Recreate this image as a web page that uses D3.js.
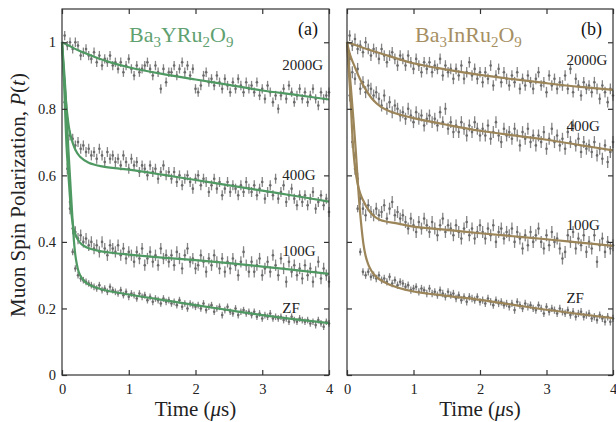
<!DOCTYPE html>
<html><head><meta charset="utf-8">
<script src="https://cdn.jsdelivr.net/npm/d3@7"></script>
<style>body{margin:0;background:#fff}svg{display:block}</style>
</head><body>
<svg id="c" width="616" height="422"></svg>
<script>
const times = [0.04,0.08,0.12,0.16,0.20,0.24,0.28,0.32,0.36,0.40,
0.44,0.48,0.52,0.56,0.60,0.64,0.68,0.72,0.76,0.80,
0.84,0.88,0.92,0.96,1.00,1.04,1.08,1.12,1.16,1.20,
1.24,1.28,1.32,1.36,1.40,1.44,1.48,1.52,1.56,1.60,
1.64,1.68,1.72,1.76,1.80,1.84,1.88,1.92,1.96,2.00,
2.04,2.08,2.12,2.16,2.20,2.24,2.28,2.32,2.36,2.40,
2.44,2.48,2.52,2.56,2.60,2.64,2.68,2.72,2.76,2.80,
2.84,2.88,2.92,2.96,3.00,3.04,3.08,3.12,3.16,3.20,
3.24,3.28,3.32,3.36,3.40,3.44,3.48,3.52,3.56,3.60,
3.64,3.68,3.72,3.76,3.80,3.84,3.88,3.92,3.96,4.00];

const fieldLabels = ["2000G","400G","100G","ZF"];
const xTicks = [0,1,2,3,4];
const yTicks = [0,0.2,0.4,0.6,0.8,1];
const yTickLabels = ["0","0.2","0.4","0.6","0.8","1"];

// Panel (a) Ba3YRu2O9 data
const a2000 = [1.02,0.99,1.00,0.98,1.00,0.99,0.96,0.97,0.98,0.96,
0.95,0.97,0.94,0.96,0.93,0.95,0.94,0.96,0.93,0.94,
0.92,0.94,0.91,0.93,0.95,0.92,0.90,0.93,0.91,0.92,
0.93,0.94,0.92,0.90,0.93,0.91,0.86,0.92,0.88,0.91,
0.91,0.93,0.90,0.92,0.94,0.91,0.93,0.90,0.92,0.86,
0.85,0.87,0.90,0.91,0.88,0.89,0.87,0.90,0.88,0.86,
0.89,0.87,0.85,0.88,0.86,0.89,0.87,0.85,0.88,0.86,
0.87,0.85,0.88,0.84,0.86,0.83,0.87,0.85,0.82,0.84,
0.80,0.84,0.86,0.83,0.87,0.85,0.82,0.84,0.86,0.83,
0.85,0.82,0.84,0.86,0.83,0.81,0.85,0.83,0.84,0.85];
const a400 = [0.87,0.77,0.72,0.71,0.69,0.70,0.68,0.69,0.67,0.68,
0.66,0.67,0.65,0.68,0.66,0.64,0.67,0.65,0.66,0.64,
0.65,0.63,0.66,0.64,0.62,0.65,0.63,0.64,0.61,0.63,
0.62,0.60,0.63,0.61,0.62,0.59,0.61,0.63,0.60,0.61,
0.59,0.61,0.58,0.60,0.57,0.59,0.60,0.58,0.56,0.59,
0.60,0.57,0.59,0.58,0.55,0.57,0.59,0.56,0.58,0.54,
0.56,0.58,0.55,0.57,0.56,0.54,0.57,0.55,0.58,0.56,
0.55,0.57,0.54,0.56,0.58,0.53,0.55,0.57,0.54,0.59,
0.53,0.55,0.57,0.52,0.54,0.56,0.53,0.51,0.54,0.52,
0.54,0.51,0.53,0.55,0.50,0.52,0.54,0.51,0.53,0.49];
const a100 = [0.82,0.62,0.50,0.44,0.43,0.41,0.42,0.40,0.41,0.39,
0.40,0.38,0.39,0.37,0.40,0.38,0.36,0.39,0.38,0.37,
0.39,0.36,0.38,0.35,0.37,0.36,0.34,0.37,0.35,0.38,
0.33,0.35,0.37,0.34,0.36,0.33,0.38,0.35,0.36,0.34,
0.36,0.33,0.37,0.35,0.32,0.36,0.38,0.34,0.35,0.32,
0.33,0.36,0.34,0.31,0.35,0.33,0.36,0.34,0.32,0.35,
0.31,0.34,0.32,0.35,0.33,0.30,0.34,0.37,0.33,0.31,
0.34,0.31,0.33,0.35,0.30,0.32,0.34,0.31,0.36,0.33,
0.30,0.35,0.32,0.28,0.34,0.31,0.33,0.30,0.32,0.29,
0.33,0.30,0.32,0.28,0.31,0.34,0.29,0.32,0.30,0.28];
const aZF = [0.88,0.72,0.52,0.37,0.32,0.30,0.29,0.285,0.28,0.275,
0.27,0.265,0.26,0.27,0.255,0.26,0.25,0.265,0.255,0.25,
0.245,0.255,0.24,0.25,0.235,0.245,0.24,0.23,0.245,0.235,
0.24,0.225,0.235,0.22,0.23,0.225,0.215,0.23,0.22,0.225,
0.215,0.22,0.21,0.225,0.205,0.215,0.20,0.215,0.21,0.205,
0.21,0.20,0.215,0.195,0.205,0.21,0.19,0.20,0.205,0.18,
0.195,0.205,0.19,0.185,0.20,0.18,0.19,0.195,0.185,0.19,
0.18,0.19,0.175,0.185,0.17,0.18,0.175,0.185,0.17,0.175,
0.17,0.175,0.165,0.17,0.16,0.175,0.165,0.16,0.17,0.165,
0.16,0.165,0.155,0.16,0.15,0.165,0.155,0.145,0.16,0.155];
const errA = [0.014,0.015,0.017,0.010];

// Panel (a) fit curves [t, P]
const fitA2000 = [[0,1.0],[0.1,0.99],[0.25,0.975],[0.5,0.955],[0.75,0.938],[1,0.925],[1.5,0.905],[2,0.888],[2.5,0.872],[3,0.855],[3.5,0.842],[4,0.828]];
const fitA400 = [[0,1.0],[0.03,0.90],[0.07,0.80],[0.12,0.727],[0.2,0.677],[0.27,0.656],[0.4,0.638],[0.6,0.627],[1,0.617],[1.5,0.602],[2,0.586],[2.5,0.57],[3,0.554],[3.5,0.538],[4,0.521]];
const fitA100 = [[0,1.0],[0.03,0.88],[0.07,0.68],[0.1,0.59],[0.125,0.52],[0.15,0.47],[0.175,0.44],[0.2,0.423],[0.25,0.403],[0.3,0.392],[0.4,0.381],[0.55,0.373],[0.8,0.366],[1,0.362],[1.5,0.353],[2,0.345],[2.5,0.336],[3,0.326],[3.5,0.315],[4,0.304]];
const fitAZF = [[0,1.0],[0.05,0.86],[0.095,0.68],[0.13,0.56],[0.16,0.46],[0.18,0.40],[0.2,0.36],[0.22,0.335],[0.25,0.31],[0.3,0.29],[0.39,0.273],[0.6,0.257],[1,0.242],[1.5,0.226],[2,0.21],[2.5,0.195],[3,0.18],[3.5,0.167],[4,0.156]];

// Panel (b) Ba3InRu2O9 data
const b2000 = [1.02,0.99,1.01,0.98,0.99,0.97,1.00,0.98,0.96,0.98,
0.97,0.95,0.98,0.96,0.94,0.96,0.97,0.95,0.93,0.96,
0.95,0.93,0.96,0.94,0.92,0.95,0.93,0.91,0.94,0.92,
0.94,0.91,0.93,0.92,0.95,0.90,0.93,0.91,0.92,0.89,
0.92,0.90,0.93,0.89,0.91,0.94,0.90,0.92,0.89,0.91,
0.88,0.91,0.89,0.93,0.87,0.90,0.92,0.88,0.91,0.89,
0.87,0.90,0.88,0.91,0.86,0.89,0.87,0.90,0.88,0.86,
0.89,0.91,0.87,0.88,0.85,0.90,0.87,0.89,0.86,0.88,
0.87,0.90,0.86,0.92,0.85,0.89,0.87,0.84,0.88,0.86,
0.87,0.85,0.88,0.86,0.83,0.87,0.85,0.82,0.86,0.84];
const b400 = [0.95,0.91,0.89,0.92,0.86,0.88,0.85,0.87,0.86,0.84,
0.85,0.83,0.81,0.84,0.80,0.82,0.79,0.81,0.80,0.78,
0.79,0.77,0.80,0.78,0.76,0.79,0.77,0.78,0.75,0.77,
0.78,0.76,0.77,0.75,0.79,0.76,0.80,0.74,0.76,0.73,
0.75,0.73,0.76,0.74,0.72,0.75,0.73,0.76,0.74,0.72,
0.74,0.72,0.75,0.71,0.73,0.76,0.72,0.70,0.74,0.72,
0.73,0.71,0.74,0.72,0.69,0.73,0.71,0.74,0.70,0.72,
0.69,0.72,0.70,0.73,0.68,0.71,0.74,0.70,0.72,0.69,
0.71,0.68,0.73,0.70,0.75,0.69,0.71,0.67,0.70,0.68,
0.69,0.67,0.70,0.66,0.68,0.65,0.69,0.64,0.67,0.70];
const b100 = [0.84,0.70,0.62,0.59,0.53,0.50,0.48,0.51,0.49,0.48,
0.50,0.48,0.49,0.51,0.47,0.50,0.52,0.48,0.49,0.47,
0.48,0.46,0.44,0.47,0.45,0.43,0.46,0.44,0.47,0.45,
0.43,0.46,0.44,0.42,0.45,0.47,0.43,0.45,0.44,0.42,
0.45,0.43,0.41,0.44,0.46,0.42,0.44,0.41,0.43,0.45,
0.43,0.41,0.44,0.42,0.45,0.40,0.43,0.44,0.41,0.43,
0.42,0.44,0.40,0.43,0.41,0.38,0.42,0.39,0.43,0.40,
0.42,0.44,0.40,0.38,0.42,0.39,0.43,0.40,0.41,0.38,
0.35,0.37,0.42,0.40,0.43,0.38,0.41,0.39,0.42,0.37,
0.40,0.38,0.42,0.34,0.39,0.41,0.37,0.40,0.38,0.39];
const bZF = [0.90,0.78,0.66,0.50,0.37,0.31,0.30,0.31,0.295,0.30,
0.29,0.30,0.285,0.29,0.28,0.295,0.275,0.285,0.27,0.28,
0.275,0.265,0.27,0.255,0.26,0.265,0.25,0.26,0.255,0.245,
0.26,0.245,0.25,0.24,0.255,0.245,0.235,0.25,0.24,0.245,
0.23,0.24,0.225,0.235,0.22,0.235,0.23,0.225,0.235,0.22,
0.225,0.215,0.23,0.22,0.21,0.225,0.215,0.22,0.21,0.215,
0.205,0.215,0.195,0.22,0.21,0.20,0.215,0.205,0.21,0.20,
0.195,0.21,0.20,0.185,0.205,0.19,0.20,0.195,0.185,0.20,
0.19,0.185,0.195,0.18,0.19,0.175,0.185,0.19,0.175,0.18,
0.185,0.17,0.175,0.165,0.18,0.17,0.16,0.175,0.16,0.17];
const errB = [0.016,0.018,0.018,0.011];

const fitB2000 = [[0,1.0],[0.25,0.983],[0.5,0.967],[1,0.937],[1.5,0.918],[2,0.902],[2.5,0.889],[3,0.877],[3.5,0.866],[4,0.857]];
const fitB400 = [[0,1.0],[0.05,0.96],[0.115,0.927],[0.19,0.892],[0.24,0.872],[0.39,0.827],[0.51,0.806],[0.65,0.792],[0.8,0.782],[1,0.772],[1.5,0.752],[2,0.734],[2.5,0.72],[3,0.707],[3.5,0.691],[4,0.675]];
const fitB100 = [[0,1.0],[0.05,0.84],[0.09,0.69],[0.12,0.625],[0.16,0.575],[0.2,0.545],[0.24,0.526],[0.3,0.503],[0.39,0.48],[0.5,0.466],[0.77,0.455],[1,0.446],[1.5,0.436],[2,0.426],[2.5,0.417],[3,0.408],[3.5,0.398],[4,0.388]];
const fitBZF = [[0,1.0],[0.06,0.86],[0.13,0.68],[0.18,0.53],[0.22,0.44],[0.25,0.39],[0.28,0.358],[0.31,0.338],[0.34,0.323],[0.39,0.306],[0.44,0.295],[0.54,0.281],[0.77,0.262],[1,0.251],[1.5,0.238],[2,0.226],[2.5,0.211],[3,0.196],[3.5,0.183],[4,0.171]];
</script>
<script>
const panels = [
  {x0:62, x1:329, title:["Ba","3","YRu","2","O","9"], tag:"(a)", color:"#4f9962", tcolor:"#5fa171",
   data:[a2000,a400,a100,aZF], err:errA, fits:[fitA2000,fitA400,fitA100,fitAZF],
   labelY:[70,180,256,313], yLabels:true, titleX:129},
  {x0:347, x1:613, title:["Ba","3","InRu","2","O","9"], tag:"(b)", color:"#9c8558", tcolor:"#a68f63",
   data:[b2000,b400,b100,bZF], err:errB, fits:[fitB2000,fitB400,fitB100,fitBZF],
   labelY:[65,131,230,303], yLabels:false, titleX:415}
];
const svg = d3.select("#c");
const font = "Liberation Serif, Times New Roman, serif";
const yTop = 9, yBot = 375;
const y = d3.scaleLinear().domain([0,1.1]).range([yBot,yTop]);

panels.forEach(p => {
  const x = d3.scaleLinear().domain([0,4]).range([p.x0,p.x1]);
  const g = svg.append("g");
  p.data.forEach((vals, si) => {
    const e = p.err[si];
    const pts = g.append("g");
    vals.forEach((v, i) => {
      const t = times[i];
      pts.append("line").attr("x1",x(t)).attr("x2",x(t))
        .attr("y1",y(v-e)).attr("y2",y(v+e))
        .attr("stroke","#858585").attr("stroke-width",1.3);
      pts.append("circle").attr("cx",x(t)).attr("cy",y(v)).attr("r",1.3).attr("fill","#6a6a6a");
    });
  });
  const line = d3.line().x(d=>x(d[0])).y(d=>y(d[1])).curve(d3.curveCatmullRom.alpha(0.5));
  p.fits.forEach(f => {
    g.append("path").attr("d",line(f)).attr("fill","none")
      .attr("stroke",p.color).attr("stroke-width",2.2);
  });
  g.append("rect").attr("x",p.x0).attr("y",yTop).attr("width",p.x1-p.x0).attr("height",yBot-yTop)
    .attr("fill","none").attr("stroke","#333").attr("stroke-width",1.2);
  const axB = d3.axisBottom(x).tickValues(xTicks).tickSize(-5).tickFormat(d3.format("d"));
  const axT = d3.axisTop(x).tickValues(xTicks).tickSize(-5).tickFormat("");
  const axL = d3.axisLeft(y).tickValues(yTicks).tickSize(-5).tickFormat((d,i)=>p.yLabels?yTickLabels[i]:"");
  const axR = d3.axisRight(y).tickValues(yTicks).tickSize(-5).tickFormat("");
  const gb = g.append("g").attr("transform",`translate(0,${yBot})`).call(axB);
  const gt = g.append("g").attr("transform",`translate(0,${yTop})`).call(axT);
  const gl = g.append("g").attr("transform",`translate(${p.x0},0)`).call(axL);
  const gr = g.append("g").attr("transform",`translate(${p.x1},0)`).call(axR);
  [gb,gt,gl,gr].forEach(a=>{
    a.select(".domain").remove();
    a.selectAll(".tick line").attr("stroke","#333").attr("stroke-width",1.2);
    a.selectAll("text").attr("font-family",font).attr("font-size",14.5).attr("fill","#222");
  });
  gb.selectAll("text").attr("dy","0.95em").attr("y",5);
  gl.selectAll("text").attr("x",-6);
  const xl = g.append("text").attr("x",(p.x0+p.x1)/2).attr("y",416).attr("text-anchor","middle")
    .attr("font-family",font).attr("font-size",21).attr("fill","#222");
  xl.append("tspan").text("Time (");
  xl.append("tspan").attr("font-style","italic").text("μ");
  xl.append("tspan").text("s)");
  const tt = g.append("text").attr("x",p.titleX).attr("y",42).attr("font-family",font)
    .attr("font-size",22).attr("fill",p.tcolor);
  p.title.forEach((s,i)=>{
    if(i%2===1) tt.append("tspan").attr("font-size",15).attr("dy",5).text(s);
    else tt.append("tspan").attr("dy",i===0?0:-5).text(s);
  });
  g.append("text").attr("x",p.x1-11).attr("y",35).attr("text-anchor","end")
    .attr("font-family",font).attr("font-size",18).attr("fill","#111").text(p.tag);
  fieldLabels.forEach((l,i)=>{
    g.append("text").attr("x",x(3.3)).attr("y",p.labelY[i]).attr("font-family",font)
      .attr("font-size",15).attr("fill","#222").text(l);
  });
});
const yl = svg.append("text").attr("transform","translate(25,195) rotate(-90)")
  .attr("text-anchor","middle").attr("font-family",font).attr("font-size",21).attr("fill","#222");
yl.append("tspan").text("Muon Spin Polarization, ");
yl.append("tspan").attr("font-style","italic").text("P");
yl.append("tspan").text("(");
yl.append("tspan").attr("font-style","italic").text("t");
yl.append("tspan").text(")");
</script>
</body></html>
